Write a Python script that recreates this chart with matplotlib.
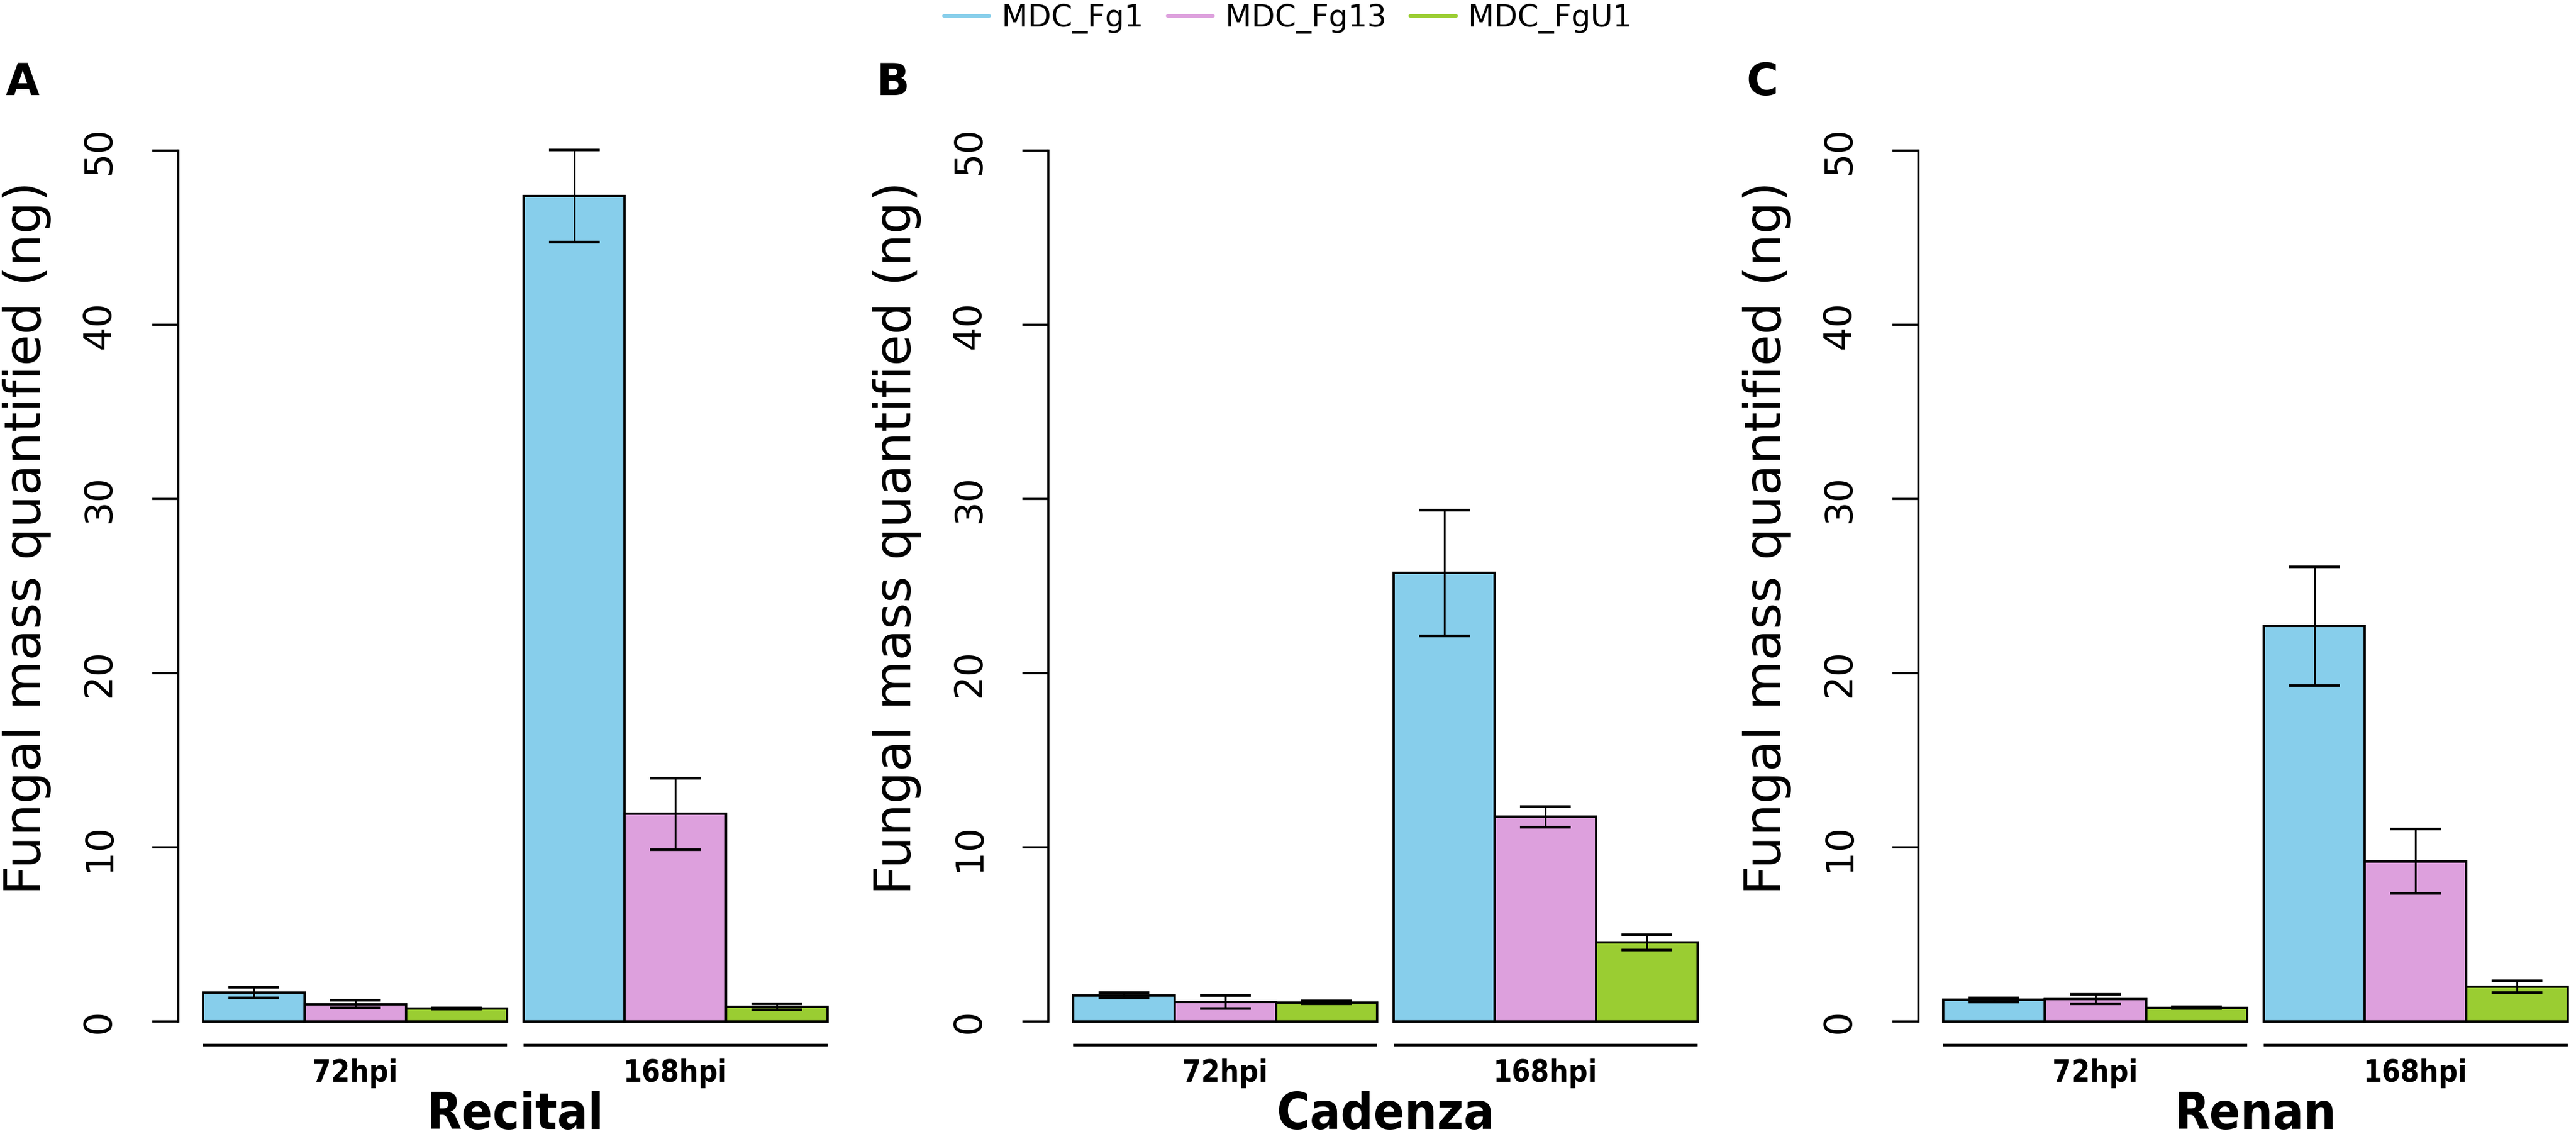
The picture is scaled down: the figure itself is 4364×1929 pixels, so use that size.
import numpy as np
import matplotlib
matplotlib.use("Agg")
from matplotlib import pyplot as plt
from matplotlib import transforms
from matplotlib.lines import Line2D

W, H = 4364, 1929

isolates = ["MDC_Fg1", "MDC_Fg13", "MDC_FgU1"]
colors = ["#87CEEB", "#DDA0DD", "#9ACD32"]
timepoints = ["72hpi", "168hpi"]
cultivars = ["Recital", "Cadenza", "Renan"]
letters = ["A", "B", "C"]
yticks = [0, 10, 20, 30, 40, 50]

# mean fungal mass, rows = timepoint, cols = isolate
recital_mean = [[1.65, 1.0, 0.74], [47.4, 11.92, 0.84]]
recital_err = [[0.3, 0.22, 0.03], [2.65, 2.05, 0.17]]
cadenza_mean = [[1.5, 1.12, 1.1], [25.75, 11.75, 4.55]]
cadenza_err = [[0.15, 0.36, 0.08], [3.6, 0.6, 0.45]]
renan_mean = [[1.25, 1.3, 0.79], [22.7, 9.2, 2.0]]
renan_err = [[0.12, 0.27, 0.05], [3.4, 1.85, 0.33]]

means = [recital_mean, cadenza_mean, renan_mean]
errs = [recital_err, cadenza_err, renan_err]

gap = 0.16
nbar = len(isolates)
span = len(timepoints) * nbar + gap
pad = 0.04 * span

fig = plt.figure(figsize=(W / 100, H / 100), dpi=100)


def fx(px):
    return px / W


def fy(py):
    return 1 - py / H


y0_px, y50_px = 1730, 255
ax_w = 1142
cond = dict(family="DejaVu Sans", stretch="condensed", weight="bold")

for i, cult in enumerate(cultivars):
    left = 302 + 1474 * i
    ax = fig.add_axes([fx(left), fy(y0_px), fx(ax_w), (y0_px - y50_px) / H])
    m = np.array(means[i])
    e = np.array(errs[i])
    for g in range(len(timepoints)):
        x = g * (nbar + gap) + np.arange(nbar)
        ax.bar(x, m[g], width=1.0, align="edge", color=colors,
               edgecolor="black", linewidth=2.8, clip_on=False, zorder=2)
        ax.errorbar(x + 0.5, m[g], yerr=e[g], fmt="none", ecolor="black",
                    elinewidth=2.2, capsize=31, capthick=3.2, clip_on=False, zorder=3)
        # group line + label under each timepoint
        tr = transforms.blended_transform_factory(ax.transData, ax.transAxes)
        yl = -40 / (y0_px - y50_px)
        ax.plot([x[0], x[-1] + 1], [yl, yl], color="black", lw=3.2,
                transform=tr, clip_on=False, solid_capstyle="butt")
        ax.text(x.mean() + 0.5, -102 / (y0_px - y50_px), timepoints[g],
                transform=tr, ha="center", va="baseline", fontsize=36.5, **cond)

    ax.set_xlim(-pad, span + pad)
    ax.set_ylim(0, 50)
    for s in ["top", "right", "bottom"]:
        ax.spines[s].set_visible(False)
    ax.spines["left"].set_linewidth(2.6)
    ax.spines["left"].set_bounds(0, 50)
    ax.set_xticks([])
    ax.set_yticks(yticks)
    ax.tick_params(axis="y", length=32, width=2.6, pad=42, labelsize=46,
                   labelrotation=90)
    for lab in ax.get_yticklabels():
        lab.set_va("center")

    fig.text(fx(left + ax_w / 2), fy(1912), cult, ha="center", va="baseline",
             fontsize=62, **cond)
    fig.text(fx(left - 298), fy(911), "Fungal mass quantified (ng)",
             rotation=90, ha="left", va="center", fontsize=62)
    fig.text(fx(left - 292), fy(161), letters[i], ha="left", va="baseline",
             fontsize=53, weight="bold")

handles = [Line2D([], [], color=c, lw=4.2, solid_capstyle="round") for c in colors]
fig.legend(handles, isolates, loc="upper center", bbox_to_anchor=(0.5, 0.998),
           ncol=3, frameon=False, fontsize=37, handlelength=1.5,
           handletextpad=0.4, columnspacing=0.8, borderaxespad=0, borderpad=0.05)

fig.savefig("out.png", dpi=100)
